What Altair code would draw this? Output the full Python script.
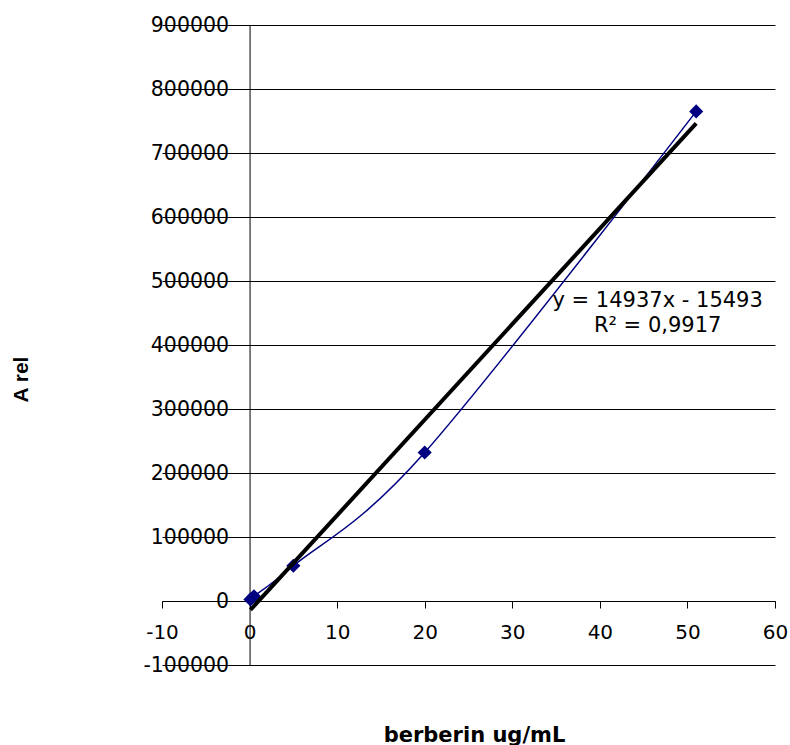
import altair as alt
import pandas as pd

# ---- data ----
conc = [0.1, 0.5, 5, 20, 51]                 # berberin ug/mL
area = [2500, 7500, 55000, 232000, 765000]   # A rel
x_ticks = [-10, 0, 10, 20, 30, 40, 50, 60]
y_ticks = [-100000, 0, 100000, 200000, 300000, 400000, 500000,
           600000, 700000, 800000, 900000]
slope = 14937
intercept = -15493
r2_text = "0,9917"
x_title = "berberin ug/mL"
y_title = "A rel"
eq_pos_x = [46.6]
eq_pos_y = [459000]

x_dom = [-10, 60]
y_dom = [-100000, 900000]
W, H = 613, 640

pts = pd.DataFrame({"x": conc, "y": area})
trend = pd.DataFrame({"x": [min(conc), max(conc)]})
trend["y"] = slope * trend["x"] + intercept
eq_label = f"y = {slope}x - {abs(intercept)}\nR\u00b2 = {r2_text}"
eq = pd.DataFrame({"x": eq_pos_x, "y": eq_pos_y, "label": [eq_label]})

# axis positions at the zero lines
y_axis_px = (0 - x_dom[0]) / (x_dom[1] - x_dom[0]) * W
x_axis_px = (0 - y_dom[0]) / (y_dom[1] - y_dom[0]) * H

x_enc = alt.X("x:Q", scale=alt.Scale(domain=x_dom, nice=False, zero=False),
              axis=alt.Axis(values=x_ticks, grid=False, offset=-x_axis_px,
                            labelExpr="'' + datum.value",
                            domainColor="black", tickColor="black", tickSize=7,
                            labelPadding=14, labelFont="DejaVu Sans", labelFontSize=20,
                            labelColor="black", labelFlush=False, labelOverlap=False,
                            title=x_title, titleFont="DejaVu Sans", titleFontSize=21,
                            titleFontWeight="bold", titleColor="black",
                            titleX=312, titleY=140, titleAlign="center",
                            titleBaseline="alphabetic"))
y_enc = alt.Y("y:Q", scale=alt.Scale(domain=y_dom, nice=False, zero=False),
              axis=alt.Axis(values=y_ticks, grid=True, gridColor="black", gridWidth=1,
                            offset=-y_axis_px, labelExpr="'' + datum.value",
                            domainColor="black", tickColor="black", tickSize=7,
                            labelPadding=14, labelFont="DejaVu Sans", labelFontSize=20.5,
                            labelColor="black", labelFlush=False, labelOverlap=False,
                            title=y_title, titleFont="Liberation Sans", titleFontSize=21,
                            titleFontWeight="bold", titleColor="black",
                            titleAngle=270, titleX=-141 - y_axis_px, titleY=354,
                            titleAlign="center", titleBaseline="middle"))

line = alt.Chart(pts).mark_line(color="#000080", strokeWidth=1.5,
                                interpolate="cardinal", tension=0).encode(x=x_enc, y=y_enc)
marks = alt.Chart(pts).mark_point(shape="diamond", filled=True, color="#000080",
                                  size=200, opacity=1).encode(x=x_enc, y=y_enc)
tl = alt.Chart(trend).mark_line(color="black", strokeWidth=4).encode(x=x_enc, y=y_enc)
txt = alt.Chart(eq).mark_text(font="DejaVu Sans", fontSize=21, color="black",
                              align="center", baseline="alphabetic",
                              lineBreak="\n", lineHeight=25).encode(
    x=x_enc, y=y_enc, text="label:N")

chart = alt.layer(line, marks, tl, txt).properties(
    width=W, height=H,
    autosize=alt.AutoSizeParams(type="none"),
    padding={"left": 162, "top": 25, "right": 15, "bottom": 80},
    background="white",
).configure_view(strokeWidth=0)

chart.save("out.html", embed_options={"renderer": "svg", "actions": False})
